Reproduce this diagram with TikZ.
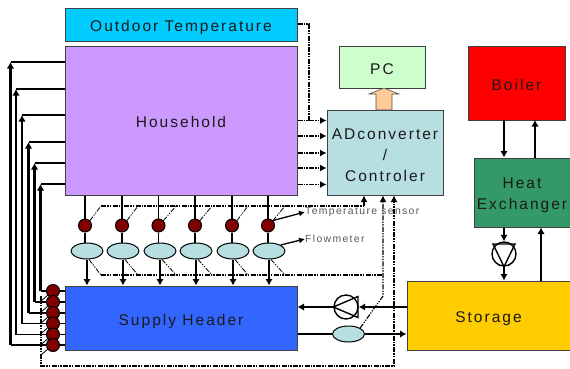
\documentclass[tikz,border=0pt]{standalone}
\usepackage{fontspec}
\setmainfont[LetterSpace=13]{Liberation Sans}
\usetikzlibrary{arrows.meta,calc,shapes.geometric}
\definecolor{lblcol}{HTML}{1A1A1A}
\newcommand{\lowered}[1]{\raisebox{-7.3pt}[0pt][0pt]{#1}}
\tikzset{
 x=1pt,y=-1pt,
 box/.style={draw=black!75,line width=1pt,inner sep=0pt,font=\fontsize{15.5}{21}\selectfont,text=lblcol,align=center},
 sensor/.style={circle,draw=black,line width=1pt,fill=red!50!black,minimum size=13pt,inner sep=0pt},
 flow/.style={ellipse,draw=black,line width=1pt,fill=flowcol,minimum width=32pt,minimum height=16pt,inner sep=0pt},
 pump/.style={circle,draw=black,line width=1.4pt,fill=white,minimum size=24pt,inner sep=0pt},
 thinline/.style={line width=1.3pt},
 pipe/.style={line width=2.4pt,-{Latex[length=6.5pt,width=7.5pt]}},
 pipeplain/.style={line width=2.4pt},
 signal/.style={line width=1.1pt,dash pattern=on 5pt off 1.3pt on 1.3pt off 1.3pt on 1.3pt off 1.3pt},
 signalarrow/.style={signal,-{Latex[length=6.5pt,width=7pt]}},
 tag/.style={font=\fontsize{10.4}{11}\selectfont,text=black!65,inner sep=0pt,anchor=west},
}
\definecolor{flowcol}{HTML}{B7DEE0}
\definecolor{adccol}{HTML}{B7DEE0}
\begin{document}
\begin{tikzpicture}
\useasboundingbox (0,0) rectangle (570,368);
% boxes
\node[box,fill={rgb,255:red,0;green,204;blue,255},minimum width=232pt,minimum height=33pt] (outdoor) at (181,24.5) {\lowered{Outdoor Temperature}};
\node[box,fill={rgb,255:red,204;green,153;blue,255},minimum width=232pt,minimum height=149pt] (house) at (181,120.5) {\lowered{Household}};
\node[box,fill={rgb,255:red,51;green,102;blue,255},minimum width=232pt,minimum height=64pt] (supply) at (181,318) {\lowered{Supply Header}};
\node[box,fill={rgb,255:red,204;green,255;blue,204},minimum width=86pt,minimum height=42pt] (pc) at (382,67) {\lowered{PC}};
\node[box,fill=adccol,minimum width=116pt,minimum height=85pt] (adc) at (385,152.5) {\rule{0pt}{16pt}ADconverter\\/\\Controler};
\node[box,fill=red,minimum width=97pt,minimum height=74pt] (boiler) at (516.5,83) {\lowered{Boiler}};
\node[box,fill={rgb,255:red,51;green,153;blue,102},minimum width=96pt,minimum height=69pt] (hx) at (522,192.5) {\rule{0pt}{16pt}Heat\\Exchanger};
\node[box,fill={rgb,255:red,255;green,204;blue,0},minimum width=163pt,minimum height=69pt] (storage) at (488.5,315.5) {\lowered{Storage}};
% PC block arrow
\fill[fill={rgb,255:red,255;green,204;blue,153},draw=black!70,line width=0.6pt] (376,110) -- (376,94) -- (369,94) -- (384,88) -- (399,94) -- (392,94) -- (392,110) -- cycle;
% sensors and flowmeters in the household branches
\foreach \n/\x/\fx in {1/85/87,2/122/123,3/158.5/160,4/195/196,5/232/233,6/268/269}{
  \node[sensor] (t\n) at (\x,225.5) {};
  \node[flow] (f\n) at (\fx,251) {};
  \draw[thinline] (house.south -| t\n) -- (t\n.north);
  \draw[thinline] (t\n.south) -- (f\n.north -| t\n);
  \draw[pipe] (f\n.south) -- (supply.north -| f\n);
}
\foreach \n/\y in {1/291,2/302,3/313,4/323.5,5/334.5,6/345}{
  \coordinate (r\n) at (53,\y);
}
\foreach \n in {1,...,6}{\draw[thinline] (r\n) -- (supply.west |- r\n);}
% return lines
\foreach \n/\x/\y in {1/40.5/184,2/34.5/163,3/28.5/142,4/22/115,5/16/89,6/10.5/62}{
  \coordinate (c\n) at (\x,\y);
  \draw[thinline] (house.west |- c\n) -- (c\n);
  \draw[pipe] (r\n -| c\n) -- (c\n);
  \draw[thinline] (r\n) -- (r\n -| c\n);
}
% signal lines to controller
\foreach \y in {120.5,136,153,168,184.5}{
  \coordinate (s) at (310,\y);
  \draw[signalarrow] (house.east |- s) -- (adc.west |- s);
}
\coordinate (od1) at (309,24);
\coordinate (od2) at (309,120.5);
\draw[signal] (outdoor.east |- od1) -- (od1) -- (od2);
% top bus
\coordinate (tb0) at (101,206);
\coordinate (tbe) at (364,206);
\draw[signal] (tb0) -- (tbe);
\draw[line width=1.1pt,-{Latex[length=6.5pt,width=7pt]}] (tbe) -- (adc.south -| tbe);
\foreach \n/\x in {1/101,2/138,3/176,4/212,5/248,6/285}{
  \coordinate (u) at (\x,206);
  \draw[signal,line width=0.8pt] (t\n.north east) -- (u);
}
% bottom bus
\coordinate (bb0) at (101,275);
\coordinate (bbe) at (383,275);
\draw[signal] (bb0) -- (bbe);
\foreach \n/\x in {1/101,2/138,3/176,4/212,5/248,6/285}{
  \coordinate (u) at (\x,275);
  \draw[signal,line width=0.8pt] ($(f\n.south)+(2,0)$) -- (u);
}
% supply pipes
\node[pump] (p1) at (346,307) {};
\node[flow] (f7) at (348.5,334) {};
\draw[line width=1.4pt] (p1.west) -- (358,296.5) -- (358,317.5) -- cycle;
\draw[pipe] (storage.west |- p1) -- (p1.east);
\draw[pipe] (p1.west) -- (supply.east |- p1);
\draw[pipeplain] (supply.east |- f7) -- (f7.west);
\draw[pipe] (f7.east) -- (storage.west |- f7);
% flowmeter signal
\coordinate (k1) at (383,296);
\draw[signalarrow] (f7.north east) -- (k1) -- (adc.south -| k1);
% outdoor loop
\coordinate (lp1) at (41,296);
\coordinate (lp2) at (41,366);
\coordinate (lp3) at (394,366);
\draw[signalarrow] (lp1) -- (lp2) -- (lp3) -- (adc.south -| lp3);
\foreach \n in {1,...,6}{
  \draw[line width=0.8pt] (r\n) ++(-5,4) -- ++(-7,6);
}
\foreach \n in {1,...,6}{
  \node[sensor] (rs\n) at (r\n) {};
}
% right side pipes
\coordinate (h1) at (504,120);
\coordinate (h2) at (535,120);
\draw[pipe] (h1) -- (hx.north -| h1);
\draw[pipe] (hx.north -| h2) -- (h2);
\node[pump] (p2) at (504,254) {};
\draw[line width=1.4pt] (493,244) -- (515,244) -- (p2.south) -- cycle;
\draw[pipe] (hx.south -| p2) -- (p2.north);
\draw[pipe] (p2.south) -- (storage.north -| p2);
\coordinate (h3) at (541,281);
\draw[pipe] (h3) -- (hx.south -| h3);
% labels
\node[tag] (tl) at (305,212) {Temperature sensor};
\node[tag] (fl) at (305,239) {Flowmeter};
\draw[line width=1.3pt,-{Latex[length=6pt,width=6pt]}] (t6.north east) -- (tl.west);
\draw[line width=1.3pt,-{Latex[length=6pt,width=6pt]}] (f6.north east) -- (fl.west);
\end{tikzpicture}
\end{document}
